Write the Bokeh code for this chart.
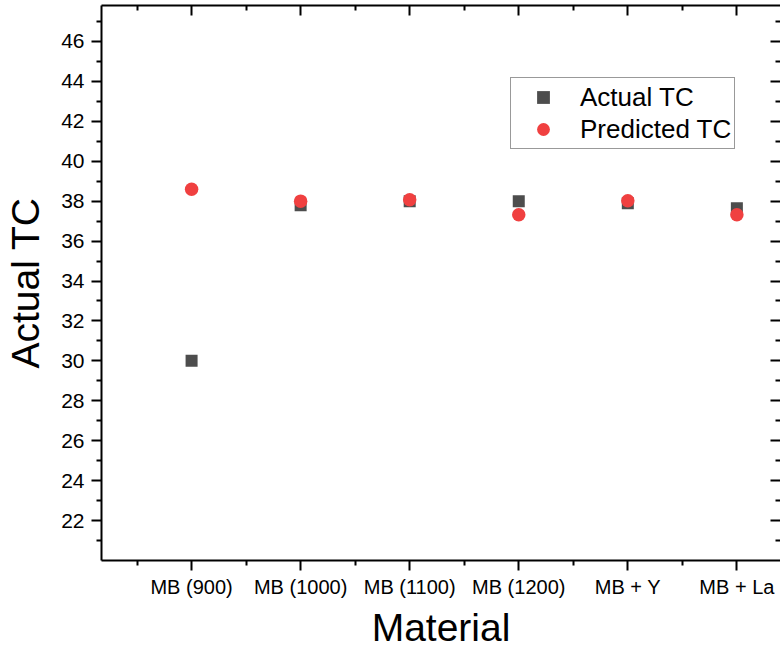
from bokeh.plotting import figure
from bokeh.models import (Range1d, LinearAxis, FixedTicker, Legend, LegendItem)
from bokeh.embed import file_html
from bokeh.resources import INLINE

categories = ["MB (900)", "MB (1000)", "MB (1100)", "MB (1200)", "MB + Y", "MB + La"]
positions = [1, 2, 3, 4, 5, 6]
actual_tc = [30.0, 37.8, 38.0, 38.0, 37.9, 37.65]
predicted_tc = [38.6, 38.0, 38.07, 37.32, 38.02, 37.32]
y_major = [22, 24, 26, 28, 30, 32, 34, 36, 38, 40, 42, 44, 46]
y_minor = [21, 23, 25, 27, 29, 31, 33, 35, 37, 39, 41, 43, 45, 47]
x_minor = [0.5, 1.5, 2.5, 3.5, 4.5, 5.5, 6.5]

FONT = "Liberation Sans"
SQ_COLOR = "#4d4d4d"
RED = "#f04040"

p = figure(width=780, height=651, output_backend="svg", toolbar_location=None,
           x_range=Range1d(0.174, 6.40), y_range=Range1d(20, 47.8),
           x_axis_location=None, y_axis_location=None,
           min_border_left=101, min_border_right=0, min_border_top=5, min_border_bottom=0)
p.outline_line_color = None
p.xgrid.visible = False
p.ygrid.visible = False
p.background_fill_color = "white"
p.border_fill_color = "white"

xt = FixedTicker(ticks=positions, minor_ticks=x_minor)
yt = FixedTicker(ticks=y_major, minor_ticks=y_minor)

def style(ax):
    ax.axis_line_width = 2
    ax.axis_line_color = "black"
    ax.major_tick_line_width = 2
    ax.minor_tick_line_width = 2
    ax.major_tick_line_color = "black"
    ax.minor_tick_line_color = "black"
    ax.major_label_text_color = "black"
    ax.axis_label_text_color = "black"

# bottom axis
xb = LinearAxis(ticker=xt, axis_label="Material")
style(xb)
xb.major_label_overrides = {pos: lab for pos, lab in zip(positions, categories)}
xb.major_tick_out = 10
xb.major_tick_in = 0
xb.minor_tick_out = 5
xb.minor_tick_in = 0
xb.major_label_text_font = FONT
xb.major_label_text_font_size = "20px"
xb.major_label_standoff = 5
xb.axis_label_text_font = FONT
xb.axis_label_text_font_size = "39px"
xb.axis_label_text_font_style = "normal"
xb.axis_label_standoff = 5
p.add_layout(xb, "below")

# left axis
yl = LinearAxis(ticker=yt, axis_label="Actual TC")
style(yl)
yl.major_tick_out = 10
yl.major_tick_in = 0
yl.minor_tick_out = 5
yl.minor_tick_in = 0
yl.major_label_text_font = FONT
yl.major_label_text_font_size = "21px"
yl.major_label_standoff = 7
yl.axis_label_text_font = FONT
yl.axis_label_text_font_size = "39px"
yl.axis_label_text_font_style = "normal"
yl.axis_label_standoff = 11
p.add_layout(yl, "left")

# top axis (mirror, no labels)
xtop = LinearAxis(ticker=xt)
style(xtop)
xtop.major_tick_out = 0
xtop.major_tick_in = 10
xtop.minor_tick_out = 0
xtop.minor_tick_in = 5
xtop.major_label_overrides = {pos: "" for pos in positions}
xtop.major_label_standoff = 0
p.add_layout(xtop, "above")

# right axis (mirror, no labels; its line falls at the cropped edge)
yr = LinearAxis(ticker=yt)
style(yr)
yr.axis_line_color = None
yr.major_tick_out = 0
yr.major_tick_in = 10
yr.minor_tick_out = 0
yr.minor_tick_in = 5
yr.major_label_overrides = {v: "" for v in y_major}
yr.major_label_standoff = 0
p.add_layout(yr, "right")

r_act = p.scatter(positions, actual_tc, marker="square", size=12,
                  fill_color=SQ_COLOR, line_color=SQ_COLOR, line_width=0)
r_pred = p.scatter(positions, predicted_tc, marker="circle", size=13.5,
                   fill_color=RED, line_color=RED, line_width=0)

legend = Legend(items=[LegendItem(label="Actual TC", renderers=[r_act]),
                       LegendItem(label="Predicted TC", renderers=[r_pred])],
                location=(409, 411), orientation="vertical",
                padding=3, spacing=0, margin=0,
                label_height=32, glyph_height=32, glyph_width=58,
                label_standoff=8,
                label_text_font=FONT, label_text_font_size="26px",
                label_text_color="black",
                border_line_color="#333333", border_line_width=1,
                background_fill_color="white", background_fill_alpha=1)
p.add_layout(legend, "center")

open("out.html", "w").write(file_html(p, INLINE))
